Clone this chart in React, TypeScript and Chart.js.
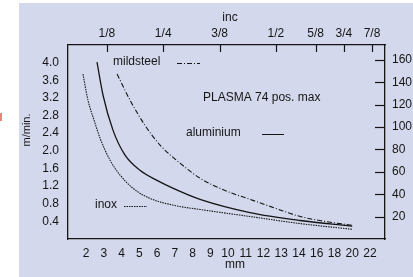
import React, { useEffect, useRef } from "react";
import { Chart, registerables } from "chart.js";

Chart.register(...registerables);

// Bottom axis: thickness (mm), evenly spaced categories
const mmTicks = [2, 3, 4, 5, 6, 7, 8, 9, 10, 11, 12, 13, 14, 16, 18, 20, 22];
// Top axis: thickness in inches
const inchTicks = [1 / 8, 1 / 4, 3 / 8, 1 / 2, 5 / 8, 3 / 4, 7 / 8];
const inchLabels = ["1/8", "1/4", "3/8", "1/2", "5/8", "3/4", "7/8"];
// Left axis m/min, right axis in/min
const leftTicks = [0.4, 0.8, 1.2, 1.6, 2.0, 2.4, 2.8, 3.2, 3.6, 4.0];
const rightTicks = [20, 40, 60, 80, 100, 120, 140, 160];

// Series (thickness mm -> speed m/min)
const inoxMm = [1.83, 2.11, 2.45, 2.79, 3.35, 3.92, 4.65, 5.61, 7.0, 8.42, 11.24, 14.12, 20];
const inoxSpeed = [3.74, 3.15, 2.7, 2.29, 1.79, 1.45, 1.15, 0.92, 0.76, 0.67, 0.51, 0.35, 0.22];
const aluMm = [2.62, 2.96, 3.52, 4.2, 5.04, 6.0, 7.3, 8.42, 11.24, 14.12, 20];
const aluSpeed = [4.01, 3.26, 2.47, 1.9, 1.56, 1.33, 1.08, 0.9, 0.6, 0.42, 0.29];
const steelMm = [3.75, 4.48, 5.32, 6.17, 7.3, 8.42, 9.83, 11.24, 12.65, 14.12, 16.94, 20];
const steelSpeed = [3.74, 3.15, 2.58, 2.13, 1.72, 1.38, 1.1, 0.9, 0.7, 0.51, 0.4, 0.31];

const M_TO_IN = 39.37;
const FONT = "Liberation Sans";
const INK = "#151515";

// piecewise mapping of thickness (mm) onto the evenly spaced bottom categories
function mmToIdx(mm: number): number {
  const n = mmTicks.length;
  if (mm <= mmTicks[0]) return (mm - mmTicks[0]) / (mmTicks[1] - mmTicks[0]);
  for (let i = 0; i < n - 1; i++) {
    if (mm <= mmTicks[i + 1]) return i + (mm - mmTicks[i]) / (mmTicks[i + 1] - mmTicks[i]);
  }
  return n - 1 + (mm - mmTicks[n - 1]) / (mmTicks[n - 1] - mmTicks[n - 2]);
}

const toPts = (xs: number[], ys: number[]) => xs.map((x, i) => ({ x: mmToIdx(x), y: ys[i] }));

const decor = {
  id: "decor",
  afterDraw(chart: any) {
    const { ctx, chartArea: a, scales } = chart;
    ctx.save();
    ctx.strokeStyle = INK;
    ctx.lineWidth = 1.2;
    // top ticks (inward)
    inchTicks.forEach((v) => {
      const x = Math.round(scales.xTop.getPixelForValue(mmToIdx(v * 25.4))) + 0.5;
      ctx.beginPath();
      ctx.moveTo(x, a.top);
      ctx.lineTo(x, a.top + 7);
      ctx.stroke();
    });
    // right ticks (inward)
    rightTicks.forEach((v) => {
      const y = Math.round(scales.yRight.getPixelForValue(v)) + 0.5;
      ctx.beginPath();
      ctx.moveTo(a.right - 10, y);
      ctx.lineTo(a.right, y);
      ctx.stroke();
    });
    ctx.fillStyle = INK;
    ctx.font = `12px "${FONT}"`;
    ctx.textBaseline = "middle";
    ctx.textAlign = "center";
    ctx.fillText("inc", 230, 18);
    ctx.fillText("mm", 235, 265);
    ctx.save();
    ctx.translate(27, 130);
    ctx.rotate(-Math.PI / 2);
    ctx.font = `11px "${FONT}"`;
    ctx.fillText("m/min.", 0, 0);
    ctx.restore();
    ctx.textAlign = "left";
    ctx.font = `12px "${FONT}"`;
    ctx.fillText("mildsteel", 113, 62);
    ctx.fillText("PLASMA 74 pos. max", 203, 98);
    ctx.fillText("aluminium", 186, 133);
    ctx.fillText("inox", 95, 205);
    const sample = (x1: number, x2: number, y: number, dash: number[]) => {
      ctx.setLineDash(dash);
      ctx.lineWidth = 1;
      ctx.beginPath();
      ctx.moveTo(x1, y + 0.5);
      ctx.lineTo(x2, y + 0.5);
      ctx.stroke();
    };
    sample(177, 200, 63, [5, 2, 1, 2]);
    sample(262, 284, 134, []);
    sample(124, 147, 206, [1.5, 1]);
    ctx.restore();
  },
};

export default function App() {
  const ref = useRef<HTMLCanvasElement>(null);
  useEffect(() => {
    const xRange = { min: -1.014, max: 16.845 };
    const fixW = (w: number) => (s: any) => { s.width = w; };
    const fixH = (h: number) => (s: any) => { s.height = h; };
    const tickFont = { family: FONT, size: 12 };
    const border = { display: true, color: INK, width: 1.3 };
    const line = (label: string, xs: number[], ys: number[], width: number, dash: number[]) => ({
      label,
      data: toPts(xs, ys),
      borderColor: INK,
      borderWidth: width,
      borderDash: dash,
      pointRadius: 0,
      cubicInterpolationMode: "monotone" as const,
      xAxisID: "x",
      yAxisID: "y",
    });
    const chart = new Chart(ref.current!, {
      type: "line",
      data: {
        datasets: [
          line("mildsteel", steelMm, steelSpeed, 1.1, [5, 2, 1, 2]),
          line("aluminium", aluMm, aluSpeed, 1.3, []),
          line("inox", inoxMm, inoxSpeed, 1.1, [1.5, 1]),
        ],
      },
      options: {
        animation: false,
        responsive: false,
        layout: { padding: 0 },
        plugins: { legend: { display: false }, tooltip: { enabled: false } },
        scales: {
          x: {
            type: "linear",
            position: "bottom",
            ...xRange,
            grid: { display: false, drawTicks: false },
            border,
            afterBuildTicks: (s: any) => { s.ticks = mmTicks.map((_, i) => ({ value: i })); },
            afterFit: fixH(38),
            ticks: {
              font: tickFont,
              color: INK,
              padding: 7,
              maxRotation: 0,
              autoSkip: false,
              callback: (v: any) => String(mmTicks[Math.round(Number(v))] ?? ""),
            },
          },
          xTop: {
            type: "linear",
            position: "top",
            ...xRange,
            grid: { display: false, drawTicks: false },
            border,
            afterBuildTicks: (s: any) => { s.ticks = inchTicks.map((v) => ({ value: mmToIdx(v * 25.4) })); },
            afterFit: fixH(45),
            ticks: {
              font: tickFont,
              color: INK,
              padding: 4,
              maxRotation: 0,
              autoSkip: false,
              callback: (_v: any, i: number) => inchLabels[i],
            },
          },
          y: {
            type: "linear",
            position: "left",
            min: 0,
            max: 4.4,
            grid: { display: false, drawTicks: false },
            border,
            afterBuildTicks: (s: any) => { s.ticks = leftTicks.map((v) => ({ value: v })); },
            afterFit: fixW(68),
            ticks: {
              font: tickFont,
              color: INK,
              padding: 9,
              autoSkip: false,
              callback: (v: any) => Number(v).toFixed(1),
            },
          },
          yRight: {
            type: "linear",
            position: "right",
            min: 0,
            max: 4.4 * M_TO_IN,
            grid: { display: false, drawTicks: false },
            border,
            afterBuildTicks: (s: any) => { s.ticks = rightTicks.map((v) => ({ value: v })); },
            afterFit: fixW(28),
            ticks: {
              font: tickFont,
              color: INK,
              padding: 7,
              autoSkip: false,
              callback: (v: any) => String(v),
            },
          },
        },
      },
      plugins: [decor],
    });
    return () => chart.destroy();
  }, []);

  return (
    <div style={{ position: "fixed", left: 0, top: 0, width: 413, height: 277, background: "#fff", overflow: "hidden" }}>
      <div style={{ position: "absolute", left: 19, top: 3, right: 0, bottom: 0, background: "#d4d8ec" }} />
      <div style={{ position: "absolute", left: 0, top: 113, width: 2, height: 8, background: "#f08080" }} />
      <canvas ref={ref} width={413} height={277} style={{ position: "absolute", left: 0, top: 0 }} />
    </div>
  );
}
